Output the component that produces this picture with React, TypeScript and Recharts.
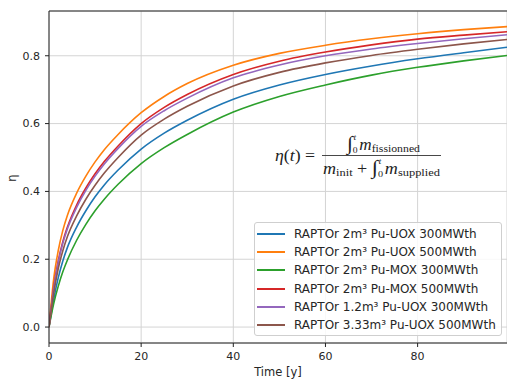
import React from 'react';
import { LineChart, Line, XAxis, YAxis, CartesianGrid, ReferenceLine } from 'recharts';

// time axis [y]
const TIME = [0, 1, 2, 3, 4, 6, 8, 10, 12, 15, 20, 25, 30, 40, 50, 60, 70, 80, 90, 99.4];

const UOX_2_300 = [0, 0.08, 0.145, 0.195, 0.235, 0.295, 0.343, 0.384, 0.419, 0.463, 0.525, 0.572, 0.61, 0.672, 0.714, 0.745, 0.77, 0.791, 0.809, 0.825];
const UOX_2_500 = [0, 0.14, 0.225, 0.285, 0.33, 0.395, 0.445, 0.487, 0.523, 0.568, 0.632, 0.68, 0.718, 0.772, 0.807, 0.831, 0.85, 0.865, 0.877, 0.886];
const MOX_2_300 = [0, 0.068, 0.12, 0.163, 0.198, 0.256, 0.303, 0.343, 0.377, 0.421, 0.482, 0.529, 0.568, 0.634, 0.68, 0.714, 0.743, 0.766, 0.785, 0.801];
const MOX_2_500 = [0, 0.115, 0.195, 0.252, 0.295, 0.36, 0.41, 0.452, 0.488, 0.534, 0.6, 0.648, 0.686, 0.745, 0.784, 0.811, 0.832, 0.849, 0.861, 0.871];
const UOX_12_300 = [0, 0.11, 0.19, 0.247, 0.29, 0.353, 0.403, 0.445, 0.481, 0.527, 0.592, 0.638, 0.675, 0.735, 0.773, 0.8, 0.82, 0.836, 0.85, 0.862];
const UOX_333_500 = [0, 0.098, 0.172, 0.225, 0.267, 0.328, 0.377, 0.418, 0.454, 0.5, 0.566, 0.613, 0.651, 0.711, 0.751, 0.779, 0.801, 0.819, 0.835, 0.848];

const X_TICKS = [0, 20, 40, 60, 80];
const Y_TICKS = [0, 0.2, 0.4, 0.6, 0.8];
const X_MAX = 99.4;
const Y_MIN = -0.047;
const Y_MAX = 0.932;

const SERIES = [
  { key: 'uox2_300', name: 'RAPTOr 2m³ Pu-UOX 300MWth', color: '#1f77b4', values: UOX_2_300 },
  { key: 'uox2_500', name: 'RAPTOr 2m³ Pu-UOX 500MWth', color: '#ff7f0e', values: UOX_2_500 },
  { key: 'mox2_300', name: 'RAPTOr 2m³ Pu-MOX 300MWth', color: '#2ca02c', values: MOX_2_300 },
  { key: 'mox2_500', name: 'RAPTOr 2m³ Pu-MOX 500MWth', color: '#d62728', values: MOX_2_500 },
  { key: 'uox12_300', name: 'RAPTOr 1.2m³ Pu-UOX 300MWth', color: '#9467bd', values: UOX_12_300 },
  { key: 'uox333_500', name: 'RAPTOr 3.33m³ Pu-UOX 500MWth', color: '#8c564b', values: UOX_333_500 },
];

const data = TIME.map((t, i) => {
  const row: Record<string, number> = { t };
  SERIES.forEach((s) => { row[s.key] = s.values[i]; });
  return row;
});

const FONT = '"DejaVu Sans", sans-serif';
const tick = { fill: '#262626', fontSize: 11, fontFamily: FONT };

export default function App() {
  return (
    <div style={{ position: 'absolute', left: 0, top: 0, width: 507, height: 381, background: '#fff' }}>
      <LineChart width={507} height={381} data={data} margin={{ top: 11, right: 0, left: 0, bottom: 0 }}>
        <CartesianGrid stroke="#d4d4d4" strokeWidth={1} />
        <XAxis
          dataKey="t" type="number" domain={[0, X_MAX]} ticks={X_TICKS} height={38}
          tick={tick} tickSize={4} tickMargin={5} stroke="#222" allowDataOverflow
          label={{ value: 'Time [y]', position: 'insideBottom', offset: 5, fill: '#262626', fontSize: 11.5, fontFamily: FONT }}
        />
        <YAxis
          type="number" domain={[Y_MIN, Y_MAX]} ticks={Y_TICKS} width={49}
          tick={tick} tickSize={4} tickMargin={5} stroke="#222" allowDataOverflow
          tickFormatter={(v: number) => v.toFixed(1)}
        />
        <ReferenceLine y={Y_MAX} stroke="#222" strokeWidth={1} />
        {SERIES.map((s) => (
          <Line key={s.key} type="monotone" dataKey={s.key} name={s.name} stroke={s.color}
            strokeWidth={1.6} dot={false} isAnimationActive={false} />
        ))}
      </LineChart>

      {/* y label + formula */}
      <svg width={507} height={381} style={{ position: 'absolute', left: 0, top: 0, pointerEvents: 'none' }}>
        <text x={12} y={178} transform="rotate(-90 12 178)" textAnchor="middle" dominantBaseline="central"
          fontSize={11.5} fontFamily={FONT} fill="#262626">η</text>
        <g fontFamily='"Liberation Serif", serif' fill="#222">
          <text x={275} y={161} fontSize={16} textLength={40} lengthAdjust="spacingAndGlyphs">
            <tspan fontStyle="italic">η</tspan>(<tspan fontStyle="italic">t</tspan>) =
          </text>
          <line x1={322} x2={441} y1={155.5} y2={155.5} stroke="#333" strokeWidth={0.9} />
          <text x={347} y={150} fontSize={16} textLength={73} lengthAdjust="spacingAndGlyphs">
            <tspan fontSize={20}>∫</tspan>
            <tspan fontSize={9} dy={3}>0</tspan>
            <tspan fontSize={9} fontStyle="italic" dx={-4} dy={-13}>t</tspan>
            <tspan fontStyle="italic" dx={3} dy={10}>m</tspan>
            <tspan fontSize={11} dy={2}>fissionned</tspan>
          </text>
          <text x={323} y={174} fontSize={16} textLength={117} lengthAdjust="spacingAndGlyphs">
            <tspan fontStyle="italic">m</tspan>
            <tspan fontSize={11} dy={2}>init</tspan>
            <tspan dy={-2}> + </tspan>
            <tspan fontSize={20}>∫</tspan>
            <tspan fontSize={9} dy={3}>0</tspan>
            <tspan fontSize={9} fontStyle="italic" dx={-4} dy={-13}>t</tspan>
            <tspan fontStyle="italic" dx={3} dy={10}>m</tspan>
            <tspan fontSize={11} dy={2}>supplied</tspan>
          </text>
        </g>
      </svg>

      {/* legend */}
      <div style={{
        position: 'absolute', left: 254, top: 222, width: 248, height: 114,
        background: 'rgba(255,255,255,0.85)', border: '1px solid #cfcfcf', borderRadius: 3,
        boxSizing: 'border-box', fontFamily: FONT, fontSize: 12, color: '#262626',
        paddingTop: 1.5,
      }}>
        {SERIES.map((s) => (
          <div key={s.key} style={{ height: 18.3, display: 'flex', alignItems: 'center', whiteSpace: 'nowrap' }}>
            <span style={{ display: 'inline-block', width: 28, height: 2, background: s.color, marginLeft: 2, marginRight: 9 }} />
            <span>{s.name}</span>
          </div>
        ))}
      </div>
    </div>
  );
}
